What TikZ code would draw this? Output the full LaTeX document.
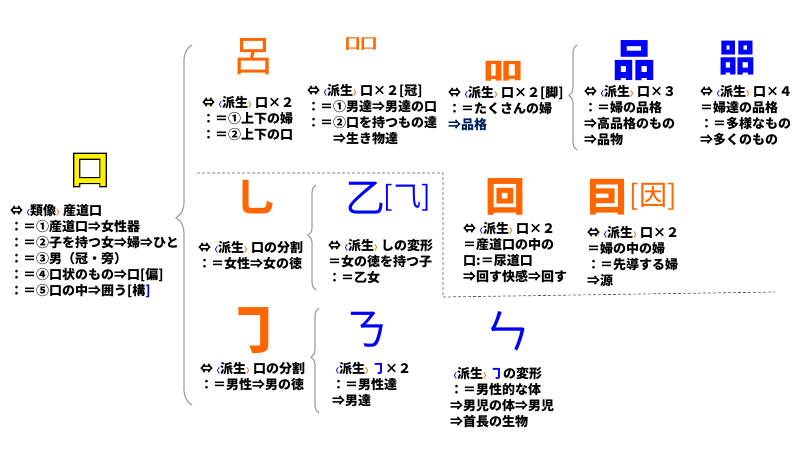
\documentclass[tikz,border=0pt]{standalone}
\usepackage{fontspec}
\newfontfamily\cjk{Noto Sans CJK JP}
\usetikzlibrary{decorations.pathreplacing}
\definecolor{kaorange}{RGB}{255,102,0}
\definecolor{kablue}{RGB}{0,0,255}
\definecolor{kanavy}{RGB}{0,32,96}
\definecolor{bracegray}{RGB}{160,160,160}
\definecolor{dashgray}{RGB}{90,90,90}
\newcommand{\hasei}{{\fontsize{7}{7}\selectfont\color{kablue}〈}派生{\fontsize{7}{7}\selectfont\color{kaorange}〉}}
\newcommand{\ruizo}{{\fontsize{7}{7}\selectfont\color{kablue}〈}類像{\fontsize{7}{7}\selectfont\color{kaorange}〉}}
\newcommand{\outlined}[1]{\special{pdf:literal direct 0 0 0 RG 1.2 w 2 Tr}#1\special{pdf:literal direct 0 Tr}}
\begin{document}
\begin{tikzpicture}[x=1pt, y=-1pt,
    txt/.style={anchor=north west, align=left, inner sep=0pt,
      font=\cjk\bfseries\fontsize{13}{16}\selectfont},
    glyph/.style={inner sep=0pt, font=\cjk\bfseries\fontsize{40}{40}\selectfont},
    thin glyph/.style={inner sep=0pt, font=\cjk\fontsize{40}{40}\selectfont},
    kbrace/.style={decorate, draw=bracegray, line width=1.2pt,
      decoration={brace, amplitude=#1}}]
    \useasboundingbox (0,0) rectangle (800,450) ;

    % main character
    \node [glyph, text=yellow] (kuchi) at (90,170) {\outlined{口}} ;
    \node [txt] (kuchitxt) at (10,204) {⇔\ruizo 産道口\\
      ：＝①産道口⇒女性器\\ ：＝②子を持つ女⇒婦⇒ひと\\ ：＝③男（冠・旁）\\
      ：＝④口状のもの⇒口[偏]\\ ：＝⑤口の中⇒囲う[構{\color{kablue}]}} ;
    \draw [kbrace=16pt] (192,405) -- (192,45) [decoration={aspect=0.52}] ;

    % top row
    \node [thin glyph, text=kaorange, font=\cjk\fontsize{42}{42}\selectfont] (ro) at (253,57) {呂} ;
    \node [txt] (rotxt) at (202,96) {⇔\hasei 口×２\\ ：＝①上下の婦\\ ：＝②上下の口} ;
    \node [thin glyph, text=kaorange] (kan) at (361,44) {\scalebox{0.9}[0.4]{吅}} ;
    \node [txt] (kantxt) at (307,84) {⇔\hasei 口×２[冠]\\ ：＝①男達⇒男達の口\\
      ：＝②口を持つもの達\\ \hspace{2em}⇒生き物達} ;
    \node [glyph, text=kaorange] (ashi) at (503,71) {\scalebox{1}[0.6]{吅}} ;
    \node [txt] (ashitxt) at (448,86) {⇔\hasei 口×２[脚]\\ ：＝たくさんの婦\\
      {\color{kanavy}⇒品格}} ;
    \draw [kbrace=8pt] (577,150) -- (577,45) [decoration={aspect=0.52}] ;
    \node [glyph, text=kablue, font=\cjk\bfseries\fontsize{44}{44}\selectfont] (hin) at (634,61) {品} ;
    \node [txt] (hintxt) at (584,85) {⇔\hasei 口×３\\ ：＝婦の品格\\ ⇒高品格のもの\\ ⇒品物} ;
    \node [glyph, text=kablue, font=\cjk\bfseries\fontsize{38}{38}\selectfont] (shu) at (737,58) {㗊} ;
    \node [txt] (shutxt) at (700,85) {⇔\hasei 口×４\\ ＝婦達の品格\\ ：＝多様なもの\\ ⇒多くのもの} ;

    % middle row
    \draw [dashed, dashgray, line width=0.7pt, dash pattern=on 3pt off 2pt] (197,173) -- (443,173) -- (443,297) -- (775,292) ;
    \node [glyph, text=kaorange] (in) at (256,197) {乚} ;
    \node [txt] (intxt) at (198,241) {⇔\hasei 口の分割\\ ：＝女性⇒女の徳} ;
    \draw [kbrace=8pt] (316,290) -- (316,185) [decoration={aspect=0.52}] ;
    \node [thin glyph, text=kablue, font=\cjk\fontsize{40}{40}\selectfont] (otsu) at (365,198) {乙} ;
    \node [thin glyph, text=kablue, font=\cjk\fontsize{28}{28}\selectfont] (otsuvar) at (407,198) {[⺄]} ;
    \node [txt] (otsutxt) at (328,239) {⇔\hasei しの変形\\ ＝女の徳を持つ子\\ ：＝乙女} ;
    \node [glyph, text=kaorange] (kai) at (505,197) {回} ;
    \node [txt] (kaitxt) at (463,222) {⇔\hasei 口×２\\ ＝産道口の中の\\ 口:＝尿道口\\ ⇒回す快感⇒回す} ;
    \node [glyph, text=kaorange] (yin) at (607,197) {囙} ;
    \node [thin glyph, text=kaorange, font=\cjk\fontsize{28}{28}\selectfont] (yinvar) at (653,197) {[因]} ;
    \node [txt] (yintxt) at (587,226) {⇔\hasei 口×２\\ ＝婦の中の婦\\ ：＝先導する婦\\ ⇒源} ;

    % bottom row
    \node [glyph, text=kaorange, font=\cjk\bfseries\fontsize{54}{54}\selectfont] (kagi) at (254,331) {㇆} ;
    \node [txt] (kagitxt) at (200,362) {⇔\hasei 口の分割\\ ：＝男性⇒男の徳} ;
    \draw [kbrace=8pt] (319,413) -- (319,308) [decoration={aspect=0.53}] ;
    \node [thin glyph, text=kablue, font=\cjk\fontsize{44}{44}\selectfont] (nai) at (366,330) {ㄋ} ;
    \node [txt] (naitxt) at (332,362) {\hasei{\color{kablue}㇆}×２\\ ：＝男性達\\ ⇒男達} ;
    \node [thin glyph, text=kablue, font=\cjk\fontsize{46}{46}\selectfont] (en) at (507,331) {ㄣ} ;
    \node [txt] (entxt) at (450,367) {\hasei{\color{kablue}㇆}の変形\\ ：＝男性的な体\\
      ⇒男児の体⇒男児\\ ⇒首長の生物} ;
\end{tikzpicture}
\end{document}
